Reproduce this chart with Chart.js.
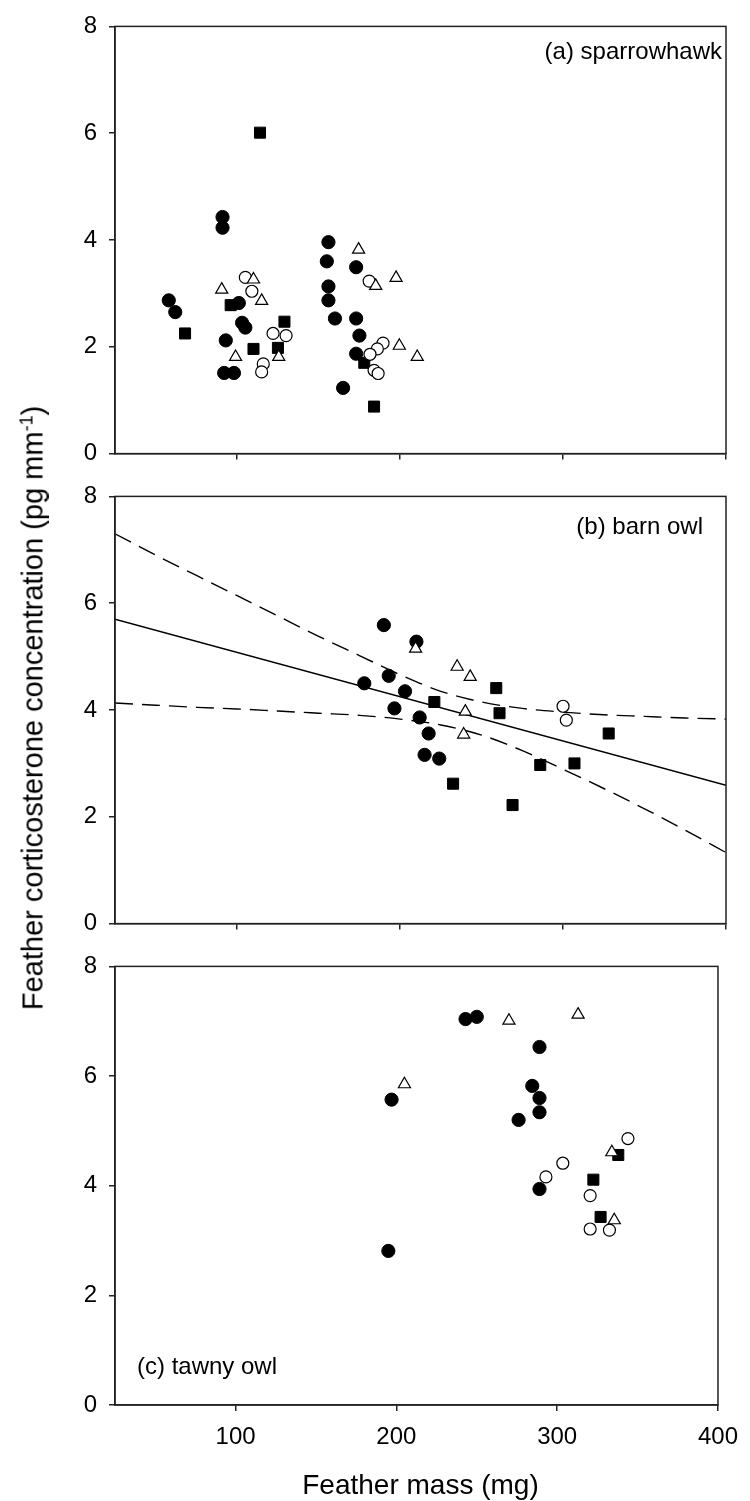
<!DOCTYPE html>
<html>
<head>
<meta charset="utf-8">
<script src="https://cdn.jsdelivr.net/npm/chart.js@4.4.1/dist/chart.umd.min.js"></script>
<style>
  html, body { margin: 0; padding: 0; background: #fff; }
  body { width: 750px; height: 1501px; position: relative; overflow: hidden;
         font-family: "Liberation Sans", Arial, Helvetica, sans-serif; color: #000; }
  canvas { position: absolute; left: 0; }
  .title { position: absolute; white-space: nowrap; line-height: 1; }
  #ytitle { font-size: 29px; left: 33px; top: 708px; transform: translate(-50%, -50%) rotate(-90deg); }
  #xtitle { font-size: 28px; left: 420.5px; top: 1485px; transform: translate(-50%, -50%); }
  sup { font-size: 0.62em; vertical-align: 0.55em; line-height: 0; }
</style>
</head>
<body>
<canvas id="chartA" width="750" height="480" style="top:0px"></canvas>
<canvas id="chartB" width="750" height="480" style="top:470px"></canvas>
<canvas id="chartC" width="750" height="561" style="top:940px"></canvas>
<div id="ytitle" class="title">Feather corticosterone concentration (pg mm<sup>-1</sup>)</div>
<div id="xtitle" class="title">Feather mass (mg)</div>
<script>
// ---------- axis ticks ----------
const xTickValues = [100, 200, 300, 400];
const yTickValues = [0, 2, 4, 6, 8];
const xMin = 25, xMax = 400, yMin = 0, yMax = 8;

// ---------- (a) sparrowhawk ----------
const aFilledCircleX = [58, 62, 91, 91, 101, 103, 105, 93, 92, 98, 156, 155, 156, 156, 160, 173, 173, 175, 173, 165];
const aFilledCircleY = [2.87, 2.65, 4.43, 4.23, 2.82, 2.45, 2.36, 2.12, 1.51, 1.51, 3.96, 3.60, 3.13, 2.87, 2.53, 3.49, 2.53, 2.21, 1.87, 1.23];
const aFilledSquareX = [114, 68, 96, 110, 125, 129, 178, 184];
const aFilledSquareY = [6.01, 2.25, 2.78, 1.96, 1.98, 2.47, 1.70, 0.88];
const aOpenCircleX = [105, 109, 122, 130, 116, 115, 181, 189.5, 186, 181.5, 184, 186.5];
const aOpenCircleY = [3.30, 3.04, 2.25, 2.21, 1.68, 1.53, 3.23, 2.07, 1.96, 1.86, 1.56, 1.50];
const aOpenTriangleX = [110, 90.5, 115, 99, 125.5, 174.5, 185, 197.5, 199.5, 210.5];
const aOpenTriangleY = [3.26, 3.07, 2.86, 1.81, 1.81, 3.82, 3.14, 3.29, 2.02, 1.81];

// ---------- (b) barn owl ----------
const bFilledCircleX = [190, 210, 178, 193, 203, 196.5, 212, 217.5, 215, 224];
const bFilledCircleY = [5.59, 5.28, 4.50, 4.64, 4.35, 4.03, 3.86, 3.56, 3.16, 3.09];
const bFilledSquareX = [221, 259, 261, 328, 286, 307, 232.5, 269];
const bFilledSquareY = [4.15, 4.41, 3.94, 3.56, 2.97, 3.00, 2.62, 2.22];
const bOpenCircleX = [300, 302];
const bOpenCircleY = [4.07, 3.81];
const bOpenTriangleX = [209.5, 235, 243, 240, 239];
const bOpenTriangleY = [5.15, 4.81, 4.62, 3.97, 3.54];
// regression line and its confidence band
const bFitX = [25, 400];
const bFitY = [5.70, 2.59];
const bBandX = [25, 50, 75, 100, 125, 150, 175, 200, 225, 250, 275, 300, 325, 350, 375, 400];
const bBandUpper = [7.30, 6.90, 6.52, 6.14, 5.76, 5.38, 5.02, 4.66, 4.35, 4.15, 4.03, 3.96, 3.91, 3.88, 3.85, 3.83];
const bBandLower = [4.13, 4.09, 4.05, 4.02, 3.98, 3.94, 3.90, 3.83, 3.72, 3.53, 3.24, 2.89, 2.53, 2.15, 1.75, 1.33];

// ---------- (c) tawny owl ----------
const cFilledCircleX = [243, 250, 289, 197, 284.5, 289, 289, 276, 289, 195];
const cFilledCircleY = [7.04, 7.08, 6.53, 5.57, 5.82, 5.60, 5.34, 5.20, 3.94, 2.81];
const cFilledSquareX = [338, 322.5, 327];
const cFilledSquareY = [4.56, 4.11, 3.43];
const cOpenCircleX = [344, 303.5, 293, 320.5, 320.5, 332.5];
const cOpenCircleY = [4.86, 4.41, 4.16, 3.82, 3.21, 3.19];
const cOpenTriangleX = [205, 270, 313, 334, 335.5];
const cOpenTriangleY = [5.85, 7.01, 7.12, 4.61, 3.37];

// ---------- helpers ----------
const FONT = '"Liberation Sans", Arial, Helvetica, sans-serif';
const AXIS_COLOR = '#222';
const pts = (xs, ys) => xs.map((x, i) => ({ x: x, y: ys[i] }));

function markerSets(fcX, fcY, sqX, sqY, ocX, ocY, trX, trY) {
  return [
    { label: 'filled circles', data: pts(fcX, fcY), pointStyle: 'circle', pointRadius: 6.6,
      backgroundColor: '#000', borderColor: '#000', borderWidth: 1, order: 4 },
    { label: 'filled squares', data: pts(sqX, sqY), pointStyle: 'rect', pointRadius: 7.8,
      backgroundColor: '#000', borderColor: '#000', borderWidth: 1, order: 3 },
    { label: 'open circles', data: pts(ocX, ocY), pointStyle: 'circle', pointRadius: 6,
      backgroundColor: '#fff', borderColor: '#000', borderWidth: 1.2, order: 2 },
    { label: 'open triangles', data: pts(trX, trY), pointStyle: 'triangle', pointRadius: 7,
      backgroundColor: '#fff', borderColor: '#000', borderWidth: 1.2, order: 1 }
  ];
}

const boxPlugin = {
  id: 'frameBox',
  afterDraw(chart) {
    const { ctx, chartArea: a } = chart;
    ctx.save();
    ctx.strokeStyle = AXIS_COLOR;
    ctx.lineWidth = 1.5;
    ctx.strokeRect(a.left, a.top, a.right - a.left, a.bottom - a.top);
    ctx.restore();
  }
};

const panelLabelPlugin = {
  id: 'panelLabel',
  afterDraw(chart, args, opts) {
    if (!opts || !opts.text) return;
    const { ctx, chartArea: a } = chart;
    ctx.save();
    ctx.font = '24px ' + FONT;
    ctx.fillStyle = '#000';
    ctx.textBaseline = 'alphabetic';
    if (opts.align === 'right') {
      ctx.textAlign = 'right';
      ctx.fillText(opts.text, a.right - opts.dx, a.top + opts.dy);
    } else {
      ctx.textAlign = 'left';
      ctx.fillText(opts.text, a.left + opts.dx, a.bottom - opts.dy);
    }
    ctx.restore();
  }
};

function makeChart(id, datasets, cfg) {
  return new Chart(document.getElementById(id), {
    type: 'scatter',
    data: { datasets: datasets },
    plugins: [boxPlugin, panelLabelPlugin],
    options: {
      responsive: false,
      animation: false,
      events: [],
      layout: { padding: { top: cfg.padTop, right: 24, left: 0, bottom: 0 } },
      plugins: {
        legend: { display: false },
        tooltip: { enabled: false },
        panelLabel: cfg.label
      },
      scales: {
        x: {
          type: 'linear', min: xMin, max: xMax,
          afterBuildTicks: s => { s.ticks = xTickValues.map(v => ({ value: v })); },
          afterFit: s => { s.height = cfg.xHeight; },
          grid: { display: true, drawOnChartArea: false, drawTicks: true, tickLength: 6,
                  color: AXIS_COLOR, lineWidth: 1.5 },
          border: { display: true, color: AXIS_COLOR, width: 1.5 },
          ticks: { display: cfg.showX, color: '#000', padding: 12,
                   font: { family: FONT, size: 24 }, maxRotation: 0 }
        },
        y: {
          type: 'linear', min: yMin, max: yMax,
          afterBuildTicks: s => { s.ticks = yTickValues.map(v => ({ value: v })); },
          afterFit: s => { s.width = 115; },
          grid: { display: true, drawOnChartArea: false, drawTicks: true, tickLength: 6,
                  color: AXIS_COLOR, lineWidth: 1.5 },
          border: { display: true, color: AXIS_COLOR, width: 1.5 },
          ticks: { color: '#000', padding: 12, font: { family: FONT, size: 24 } }
        }
      }
    }
  });
}

// (a)
makeChart('chartA',
  markerSets(aFilledCircleX, aFilledCircleY, aFilledSquareX, aFilledSquareY,
             aOpenCircleX, aOpenCircleY, aOpenTriangleX, aOpenTriangleY),
  { padTop: 22, xHeight: 18, showX: false,
    label: { text: '(a) sparrowhawk', align: 'right', dx: 4, dy: 33 } });

// (b)
const bLines = [
  { type: 'line', label: 'fit', data: pts(bFitX, bFitY), borderColor: '#000', borderWidth: 1.4,
    pointRadius: 0, fill: false, tension: 0, order: 10 },
  { type: 'line', label: 'upper 95% CI', data: pts(bBandX, bBandUpper), borderColor: '#000', borderWidth: 1.4,
    borderDash: [18, 9], pointRadius: 0, fill: false, cubicInterpolationMode: 'monotone', order: 11 },
  { type: 'line', label: 'lower 95% CI', data: pts(bBandX, bBandLower), borderColor: '#000', borderWidth: 1.4,
    borderDash: [18, 9], pointRadius: 0, fill: false, cubicInterpolationMode: 'monotone', order: 12 }
];
makeChart('chartB',
  markerSets(bFilledCircleX, bFilledCircleY, bFilledSquareX, bFilledSquareY,
             bOpenCircleX, bOpenCircleY, bOpenTriangleX, bOpenTriangleY).concat(bLines),
  { padTop: 24, xHeight: 17, showX: false,
    label: { text: '(b) barn owl', align: 'right', dx: 23, dy: 38 } });

// (c)
makeChart('chartC',
  markerSets(cFilledCircleX, cFilledCircleY, cFilledSquareX, cFilledSquareY,
             cOpenCircleX, cOpenCircleY, cOpenTriangleX, cOpenTriangleY),
  { padTop: 25, xHeight: 96, showX: true,
    label: { text: '(c) tawny owl', align: 'left', dx: 22, dy: 31 } });
</script>
</body>
</html>
